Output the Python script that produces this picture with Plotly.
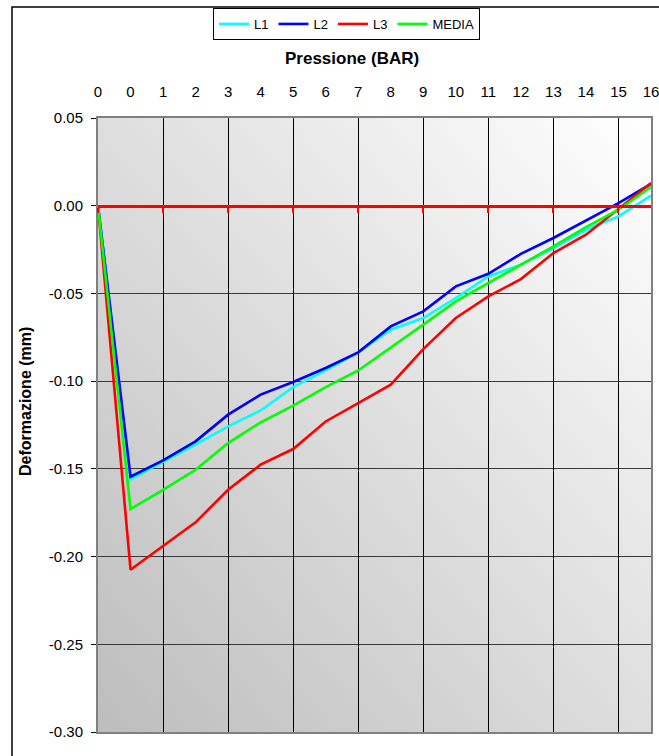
import base64
import plotly.graph_objects as go

# ---- data ----
x_labels = ["0", "0", "1", "2", "3", "4", "5", "6", "7", "8", "9", "10",
            "11", "12", "13", "14", "15", "16"]
L1 = [0.0, -0.156, -0.146, -0.1362, -0.1258, -0.1167, -0.1034, -0.0939, -0.0836,
      -0.0707, -0.064, -0.0526, -0.0403, -0.0336, -0.0241, -0.0137, -0.0061, 0.0057]
L2 = [0.0, -0.1545, -0.1452, -0.1343, -0.1191, -0.1077, -0.1005, -0.0925, -0.0836,
      -0.0688, -0.0602, -0.046, -0.0388, -0.0274, -0.0184, -0.0084, 0.0015, 0.0124]
L3 = [0.0, -0.2075, -0.194, -0.1805, -0.1619, -0.1476, -0.1387, -0.123, -0.1125,
      -0.102, -0.0817, -0.064, -0.0517, -0.0418, -0.027, -0.0165, -0.0019, 0.0129]
MEDIA = [0.0, -0.1729, -0.162, -0.1505, -0.1353, -0.1235, -0.114, -0.1034, -0.0939,
         -0.0811, -0.0678, -0.0545, -0.0441, -0.0336, -0.0232, -0.0122, -0.0023, 0.0107]
series_names = ["L1", "L2", "L3", "MEDIA"]
series_colors = ["#00FFFF", "#0000FF", "#FF0000", "#00FF00"]
y_tickvals = [0.05, 0.0, -0.05, -0.10, -0.15, -0.20, -0.25, -0.30]
y_ticktext = ["0.05", "0.00", "-0.05", "-0.10", "-0.15", "-0.20", "-0.25", "-0.30"]
grid_x = list(range(0, 17, 2))

x_idx = list(range(len(x_labels)))
FONT = "Liberation Sans, Arial, sans-serif"

fig = go.Figure()
for name, vals, col in zip(series_names, [L1, L2, L3, MEDIA], series_colors):
    fig.add_trace(go.Scatter(x=x_idx, y=vals, mode="lines", name=name,
                             line=dict(color=col, width=2.6)))

# gradient background
svg = ('<svg xmlns="http://www.w3.org/2000/svg" width="100" height="100" '
       'preserveAspectRatio="none" viewBox="0 0 100 100">'
       '<defs><linearGradient id="g" x1="0" y1="1" x2="1" y2="0">'
       '<stop offset="0" stop-color="#bdbdbd"/><stop offset="1" stop-color="#ffffff"/>'
       '</linearGradient></defs><rect width="100" height="100" fill="url(#g)"/></svg>')
src = "data:image/svg+xml;base64," + base64.b64encode(svg.encode()).decode()

W, H = 659, 756
L, R, T, B = 98, 8, 118, 24
pw, ph = W - L - R, H - T - B

def px(xp):
    return (xp - L) / pw

def py(yp):
    return (H - B - yp) / ph

fig.update_layout(
    width=W, height=H,
    margin=dict(l=L, r=R, t=T, b=B, autoexpand=False),
    paper_bgcolor="white", plot_bgcolor="rgba(0,0,0,0)",
    font=dict(family=FONT, size=15, color="black"),
    images=[dict(source=src, xref="paper", yref="paper", x=0, y=1, sizex=1, sizey=1,
                 sizing="stretch", xanchor="left", yanchor="top", layer="below")],
    showlegend=True,
    legend=dict(orientation="h", x=px(213), y=py(8), xanchor="left", yanchor="top",
                bordercolor="black", borderwidth=1, bgcolor="white",
                font=dict(family=FONT, size=13), itemwidth=30,
                tracegroupgap=0),
    xaxis=dict(range=[0, 17], side="top", tickmode="array", tickvals=x_idx,
               ticktext=x_labels, ticks="outside", ticklen=13, automargin=False,
               ticklabeloverflow="allow",
               tickcolor="rgba(0,0,0,0)", showgrid=False, zeroline=False,
               showline=True, linecolor="#808080", linewidth=2, mirror=True,
               tickfont=dict(size=15)),
    xaxis2=dict(range=[0, 17], overlaying="x", anchor="free", automargin=False,
                position=0.30 / 0.35, side="bottom", tickmode="array",
                tickvals=grid_x, showticklabels=False, ticks="outside",
                ticklen=5, tickwidth=2, tickcolor="#FF0000",
                showgrid=True, gridcolor="#000000", gridwidth=1,
                showline=True, linecolor="#FF0000", linewidth=3, zeroline=False),
    yaxis=dict(range=[-0.30, 0.05], tickmode="array", tickvals=y_tickvals,
               ticktext=y_ticktext, ticks="outside", ticklen=5, tickcolor="black",
               ticklabelstandoff=5, automargin=False, ticklabeloverflow="allow",
               showgrid=True, gridcolor="#3a3a3a", gridwidth=1, zeroline=False,
               showline=True, linecolor="#808080", linewidth=2, mirror=True,
               tickfont=dict(size=15)),
    annotations=[
        dict(text="<b>Pressione (BAR)</b>", xref="paper", yref="paper",
             x=px(352), y=py(59), xanchor="center", yanchor="middle",
             showarrow=False, font=dict(size=17)),
        dict(text="<b>Deformazione (mm)</b>", xref="paper", yref="paper",
             x=px(25), y=py(402), xanchor="center", yanchor="middle",
             showarrow=False, textangle=-90, font=dict(size=16)),
    ],
    shapes=[dict(type="rect", xref="paper", yref="paper",
                 x0=px(12), x1=px(700), y0=py(800), y1=py(7),
                 line=dict(color="black", width=1.5), layer="below")],
)
# dummy trace on xaxis2 so it is rendered
fig.add_trace(go.Scatter(x=[0, 17], y=[None, None], xaxis="x2", showlegend=False,
                         hoverinfo="skip"))

fig.write_html("out.html")
